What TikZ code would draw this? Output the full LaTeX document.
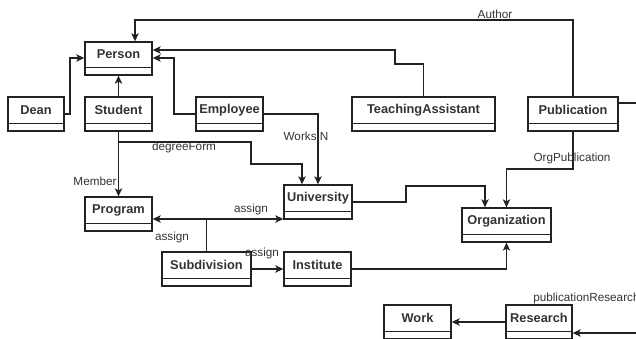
\documentclass[tikz,border=0pt]{standalone}
\usepackage{fontspec}
\setmainfont{Liberation Sans}
\usetikzlibrary{arrows.meta,fit}
\definecolor{ink}{HTML}{222222}
\definecolor{txt}{HTML}{333333}
\tikzset{
  x=0.75pt, y=-0.75pt,
  cls/.style={draw=ink, line width=1pt, fill=white, inner sep=0pt, rectangle},
  ttl/.style={font=\bfseries\fontsize{9.6pt}{11pt}\selectfont, text=txt, inner sep=0pt, yshift=3pt},
  lbl/.style={font=\fontsize{8.8pt}{10pt}\selectfont, text=txt, inner sep=0pt},
  conn/.style={draw=ink, line width=0.9pt},
  arr/.style={conn, -{Stealth[length=6pt,width=5.5pt,inset=1.5pt]}},
}
\newcommand\umlclass[6]{%
  \node[cls, fit={(#2,#3) (#4,#5)}, label={[name=#1-t, ttl]center:#6}] (#1) {};
  \draw[draw=ink, line width=1pt] ([yshift=6pt]#1.south west) -- ([yshift=6pt]#1.south east);
}
\begin{document}
\begin{tikzpicture}
\useasboundingbox (0,0) rectangle (636,339);

% classes
\umlclass{person}{85}{42}{152}{75}{Person}
\umlclass{dean}{8}{97}{64}{131}{Dean}
\umlclass{student}{85}{97}{152}{131}{Student}
\umlclass{employee}{196}{97}{263}{131}{Employee}
\umlclass{ta}{352}{97}{495}{131}{TeachingAssistant}
\umlclass{publication}{528}{97}{618}{131}{Publication}
\umlclass{program}{85}{197}{152}{231}{Program}
\umlclass{university}{284}{185}{352}{219}{University}
\umlclass{organization}{462}{208}{551}{242}{Organization}
\umlclass{subdivision}{162}{252}{251}{286}{Subdivision}
\umlclass{institute}{284}{252}{351}{286}{Institute}
\umlclass{work}{384}{305}{451}{339}{Work}
\umlclass{research}{506}{305}{572}{339}{Research}

% bend points
\coordinate (au1) at (135,20);
\coordinate (ta1) at (395,64);
\coordinate (ta2) at (395,50);
\coordinate (em1) at (174,58);
\coordinate (de1) at (70,58);
\coordinate (df0) at (118.5,142);
\coordinate (df1) at (251,164);
\coordinate (df2) at (302,164);
\coordinate (uo1) at (406,186);
\coordinate (uo2) at (485,186);
\coordinate (oph) at (0,169);
\coordinate (as0) at (206.5,219);
\coordinate (pr0) at (645,333);
\coordinate (pu1) at (645,103);

% connectors
\draw[arr] (publication.north) |- (au1) -- (au1 |- person.north);
\draw[arr] (ta.north) |- (ta1) -- (ta2) -- (ta2 -| person.east);
\draw[arr] (employee.west) -| (em1) -- (em1 -| person.east);
\draw[arr] (dean.east) -| (de1) -- (de1 -| person.west);
\draw[arr] (student.north) -- (person.south);
\draw[arr] (student.south) -- (program.north);
\draw[arr] (df0) -| (df1) -- (df2) -- (df2 |- university.north);
\draw[arr] (employee.east) -| (university.north);
\draw[arr] (university.east) -| (uo1) -- (uo2) -- (uo2 |- organization.north);
\draw[arr] (publication.south) |- (organization.north |- oph) -- (organization.north);
\draw[conn] (subdivision.north) -- (as0);
\draw[arr] (as0) -- (as0 -| program.east);
\draw[arr] (as0) -- (as0 -| university.west);
\draw[arr] (subdivision.east) -- (institute.west);
\draw[arr] (institute.east) -| (organization.south);
\draw[arr] (research.west) -- (work.east);
\draw[arr] (pr0) -- (pr0 -| research.east);
\draw[conn] (publication.east |- pu1) -- (pu1);

% labels
\node[lbl] (l-author) at (495,14) {Author};
\node[lbl] (l-works) at (306,136) {WorksIN};
\node[lbl] (l-degree) at (184,147) {degreeForm};
\node[lbl] (l-member) at (95,181) {Member};
\node[lbl] (l-orgpub) at (572,158) {OrgPublication};
\node[lbl] (l-assign1) at (251,209) {assign};
\node[lbl] (l-assign2) at (172,237) {assign};
\node[lbl] (l-assign3) at (262,253) {assign};
\node[lbl, anchor=west] (l-pubres) at (533,298) {publicationResearch};
\end{tikzpicture}
\end{document}
